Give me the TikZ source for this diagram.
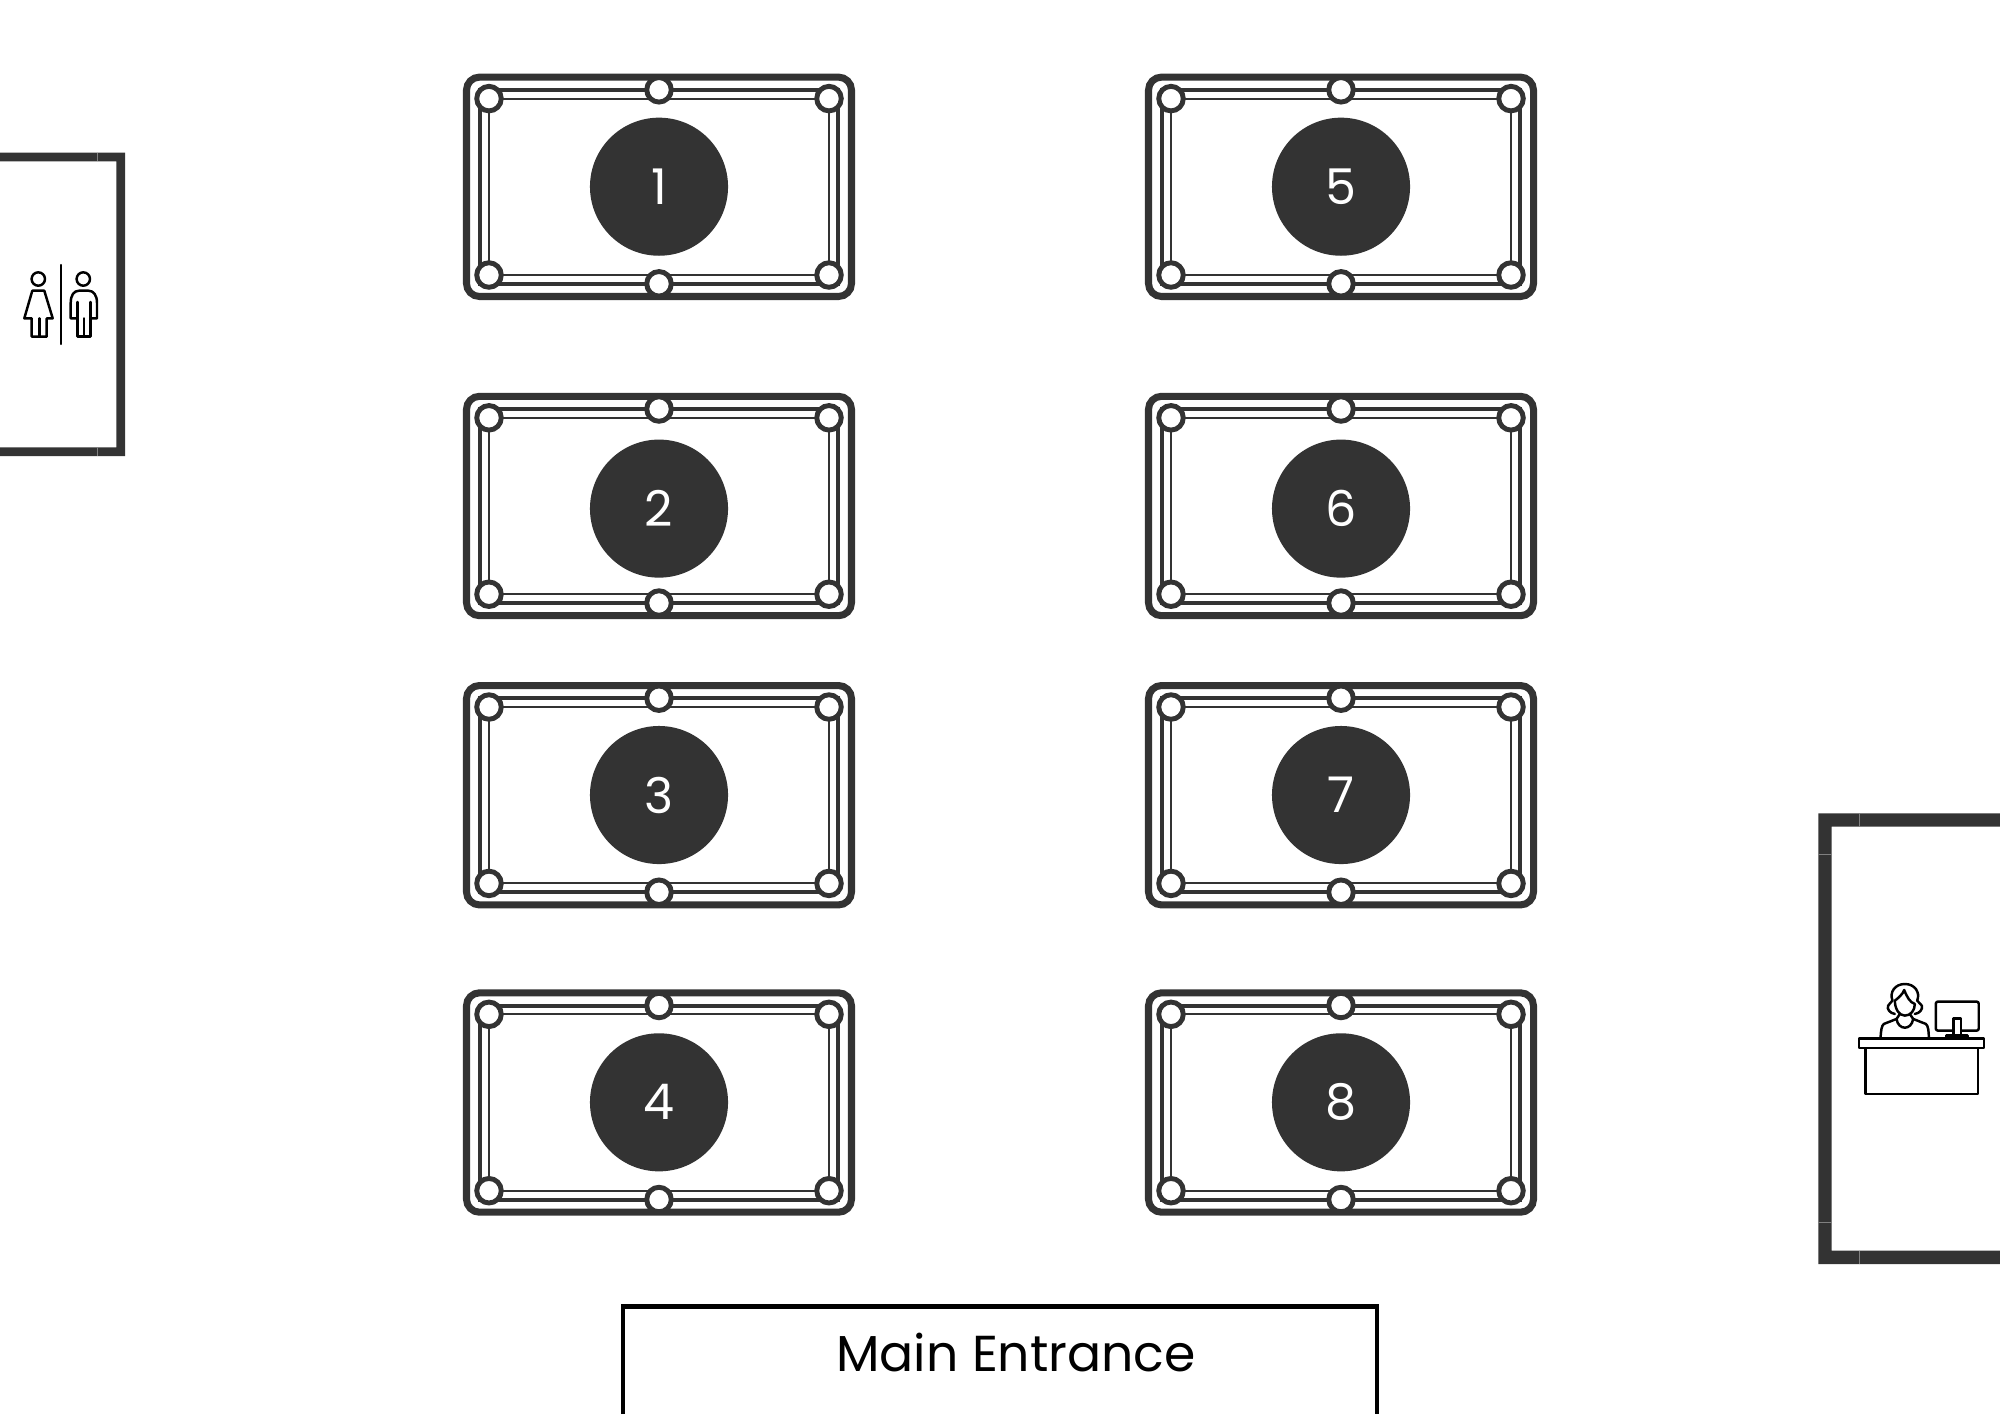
\documentclass[tikz,border=0pt]{standalone}
\usepackage{fontspec}
\setmainfont{Poppins}
\definecolor{wallgray}{HTML}{333333}
\tikzset{
  feltline/.style={draw=wallgray,line width=0.6pt},
  railline/.style={draw=wallgray,line width=1.15pt},
  rimline/.style={draw=wallgray,line width=2pt,rounded corners=0.13cm},
  pocket/.style={circle,draw=wallgray,fill=white,line width=1.4pt,minimum size=0.245cm,inner sep=0pt},
  numdisc/.style={circle,fill=wallgray,text=white,minimum size=1.38cm,inner sep=0pt,font=\fontsize{14}{16}\selectfont},
  wallfill/.style={fill=wallgray,draw=none},
  seam/.style={draw=gray,line width=0.2pt},
  iconline/.style={draw=black,line width=0.7pt,line join=round,line cap=round},
}
% cx, cy of table, cy of disc, number
\newcommand{\pooltable}[4]{
  \begin{scope}[shift={(#1,#2)}]
    \draw[rimline] (-192.5,-109.7) rectangle (192.5,109.7);
    \draw[railline] (-178.7,-97) rectangle (178.7,97);
    \draw[feltline] (-170,-88.2) rectangle (170,88.2);
    \node[pocket] (tl#4) at (-170,-88.2) {};
    \node[pocket] (tr#4) at (170,-88.2) {};
    \node[pocket] (bl#4) at (-170,88.2) {};
    \node[pocket] (br#4) at (170,88.2) {};
    \node[pocket] (tm#4) at (0,-97) {};
    \node[pocket] (bm#4) at (0,97) {};
  \end{scope}
  \node[numdisc] (disc#4) at (#1,#3) {#4};
}
\begin{document}
\begin{tikzpicture}[x=0.01cm,y=-0.01cm]
  \useasboundingbox (0,0) rectangle (2000,1414);
  %tavoli
  \pooltable{659}{186.8}{186.7}{1}
  \pooltable{659}{506}{508.6}{2}
  \pooltable{659}{795.2}{795}{3}
  \pooltable{659}{1102.5}{1102.3}{4}
  \pooltable{1341}{186.8}{186.7}{5}
  \pooltable{1341}{506}{508.6}{6}
  \pooltable{1341}{795.2}{795}{7}
  \pooltable{1341}{1102.5}{1102.3}{8}
  %bagni
  \fill[wallfill] (0,152.7) -- (125,152.7) -- (125,456) -- (0,456) -- (0,447.3) -- (116.3,447.3) -- (116.3,161.3) -- (0,161.3) -- cycle;
  \draw[seam] (97.7,152.7) -- (97.7,161.3);
  \draw[seam] (97.7,447.3) -- (97.7,456);
  \draw[iconline] (38.3,279) circle (6.7);
  \draw[iconline] (32.3,290.7) -- (44.3,290.7) -- (52.7,318.3) -- (46.7,318.3) -- (46.7,336.7) -- (31.7,336.7) -- (31.7,318.3) -- (24.3,318.3) -- cycle;
  \draw[iconline] (39.3,318.3) -- (39.3,336.7);
  \draw[iconline] (61,265) -- (61,344);
  \draw[iconline] (83.3,279) circle (6.7);
  \draw[iconline] (77.3,318.3) -- (70.7,318.3) -- (70.7,303) .. controls (70.7,295) and (74,290.7) .. (79,290.7) -- (88.5,290.7) .. controls (93.5,290.7) and (97,295) .. (97,303) -- (97,318.3) -- (90.7,318.3);
  \draw[iconline] (77.3,302) -- (77.3,336.7) -- (90.7,336.7) -- (90.7,302);
  \draw[iconline] (84,318.3) -- (84,336.7);
  %reception
  \fill[wallfill] (2000,813.4) -- (1818.3,813.4) -- (1818.3,1264) -- (2000,1264) -- (2000,1250.7) -- (1831.7,1250.7) -- (1831.7,826.7) -- (2000,826.7) -- cycle;
  \draw[seam] (1859.3,813.4) -- (1859.3,826.7);
  \draw[seam] (1859.3,1250.7) -- (1859.3,1264);
  \draw[seam] (1818.3,854.7) -- (1831.7,854.7);
  \draw[seam] (1818.3,1222.7) -- (1831.7,1222.7);
  \begin{scope}[shift={(1800,950.7)},x=0.003333cm,y=-0.003333cm]
    \draw[iconline] (178,264) rectangle (552,292);
    \draw[iconline] (197,292) rectangle (534,430);
    \draw[iconline,rounded corners=0.02cm] (408,153) rectangle (537,240);
    \draw[iconline,fill=white] (461,255) -- (461,203) -- (484,203) -- (484,255);
    \draw[iconline] (440,264) -- (440,255) -- (503,255) -- (503,264);
    \draw[iconline] (242,264) .. controls (243,240) and (245,225) .. (252,220) -- (290,205) .. controls (295,240) and (335,240) .. (340,205) -- (378,220) .. controls (385,225) and (387,240) .. (387,264);
    \draw[iconline] (285,190) .. controls (270,188) and (260,175) .. (265,165) .. controls (268,158) and (275,155) .. (278,150) .. controls (268,125) and (285,100) .. (315,100) .. controls (345,100) and (362,125) .. (352,150) .. controls (355,155) and (362,158) .. (366,165) .. controls (370,175) and (360,188) .. (345,190);
    \draw[iconline] (285,150) .. controls (285,175) and (298,195) .. (315,195) .. controls (332,195) and (345,180) .. (345,160) .. controls (330,155) and (322,140) .. (313,118) .. controls (308,132) and (295,142) .. (285,150);
    \draw[iconline] (300,190) -- (290,205);
    \draw[iconline] (330,190) -- (340,205);
  \end{scope}
  %ingresso
  \draw[black,line width=1.35pt] (623,1414) -- (623,1306.3) -- (1377,1306.3) -- (1377,1414);
  \node[anchor=base,black,font=\fontsize{14.36}{18}\selectfont] (entrance) at (1016,1371) {Main Entrance};
\end{tikzpicture}
\end{document}
